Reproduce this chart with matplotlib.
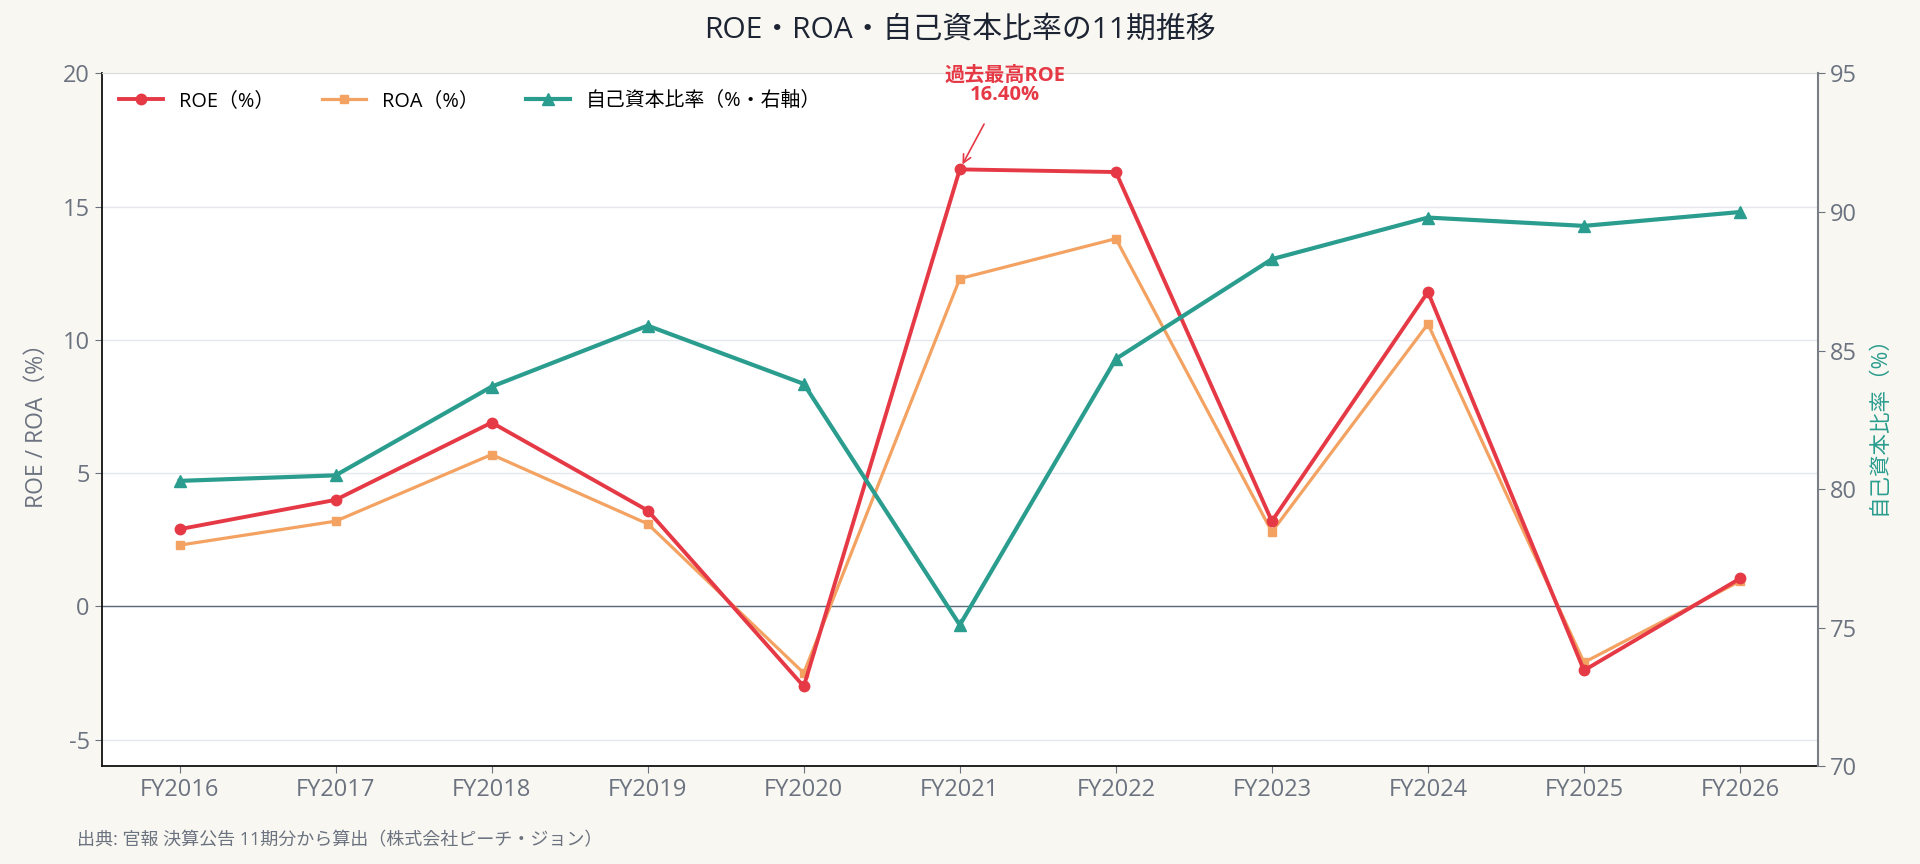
import matplotlib
matplotlib.use("Agg")
import matplotlib.pyplot as plt

plt.rcParams['font.family'] = ['Open Sans', 'Noto Sans CJK JP', 'DejaVu Sans']

years = ["FY2016", "FY2017", "FY2018", "FY2019", "FY2020", "FY2021",
         "FY2022", "FY2023", "FY2024", "FY2025", "FY2026"]
roe = [2.9, 4.0, 6.9, 3.6, -3.0, 16.4, 16.3, 3.2, 11.8, -2.4, 1.05]
roa = [2.3, 3.2, 5.7, 3.1, -2.5, 12.3, 13.8, 2.8, 10.6, -2.1, 0.95]
equity = [80.3, 80.5, 83.7, 85.9, 83.8, 75.1, 84.7, 88.3, 89.8, 89.5, 90.0]
left_ticks = [-5, 0, 5, 10, 15, 20]
right_ticks = [70, 75, 80, 85, 90, 95]

C_ROE = "#E63946"
C_ROA = "#F4A261"
C_EQ = "#2A9D8F"
C_TXT = "#6B7280"
BG = "#F9F7F1"

fig = plt.figure(figsize=(19.2, 8.64), dpi=100, facecolor=BG)
ax = fig.add_axes([0.0529, 0.113, 0.894, 0.802])
ax.set_facecolor("white")
ax2 = ax.twinx()

x = list(range(len(years)))
l1, = ax.plot(x, roe, color=C_ROE, lw=2.8, marker="o", ms=7.5, label="ROE（%）", zorder=4)
l2, = ax.plot(x, roa, color=C_ROA, lw=2.3, marker="s", ms=6, label="ROA（%）", zorder=3)
l3, = ax2.plot(x, equity, color=C_EQ, lw=3.0, marker="^", ms=8, label="自己資本比率（%・右軸）", zorder=3)

ax.set_xlim(-0.5, len(years) - 0.5)
ax.set_ylim(-6, 20)
ax2.set_ylim(70, 95)
ax.set_yticks(left_ticks)
ax.set_yticklabels([str(t) for t in left_ticks])
ax2.set_yticks(right_ticks)
ax.set_xticks(x)
ax.set_xticklabels(years)

ax.grid(axis="y", color="#E5E7EB", lw=1)
ax.set_axisbelow(True)
ax.axhline(0, color="#5B6B7B", lw=1, zorder=2)

ax.tick_params(axis="both", colors=C_TXT, labelsize=17, length=5)
ax2.tick_params(axis="y", colors=C_TXT, labelsize=17, length=5)
for lab in ax.get_xticklabels() + ax.get_yticklabels() + ax2.get_yticklabels():
    lab.set_color(C_TXT)

ax.spines["left"].set_color("#111111")
ax.spines["bottom"].set_color("#111111")
ax.spines["left"].set_linewidth(1.3)
ax.spines["bottom"].set_linewidth(1.3)
ax.spines["top"].set_color("#DDDDDD")
ax.spines["right"].set_visible(False)
ax2.spines["top"].set_visible(False)
ax2.spines["left"].set_visible(False)
ax2.spines["bottom"].set_visible(False)
ax2.spines["right"].set_color("#7A7F87")
ax2.spines["right"].set_linewidth(1.5)

ax.set_ylabel("ROE / ROA（%）", color=C_TXT, fontsize=16.5, labelpad=10)
ax2.set_ylabel("自己資本比率（%）", color=C_EQ, fontsize=15.5, labelpad=8)

fig.text(0.5, 0.965, "ROE・ROA・自己資本比率の11期推移", ha="center", va="center",
         fontsize=21.5, color="#1D2433")

leg = ax.legend(handles=[l1, l2, l3], loc="upper left", ncol=3, frameon=False,
                fontsize=14.3, bbox_to_anchor=(0.0, 1.0), columnspacing=2.4, handlelength=2.2)

imax = roe.index(max(roe))
ax.annotate(f"過去最高ROE\n{max(roe):.2f}%", xy=(x[imax], roe[imax]),
            xytext=(45, 84), textcoords="offset pixels", ha="center", va="center",
            fontsize=14.5, fontweight="bold", color=C_ROE, linespacing=1.0,
            arrowprops=dict(arrowstyle="->", color=C_ROE, lw=1.2, shrinkA=13, shrinkB=4),
            annotation_clip=False, zorder=6)

fig.text(0.040, 0.028, "出典: 官報 決算公告 11期分から算出（株式会社ピーチ・ジョン）",
         fontsize=13, color=C_TXT, ha="left", va="center")

fig.savefig("out.png", dpi=100, facecolor=BG)
